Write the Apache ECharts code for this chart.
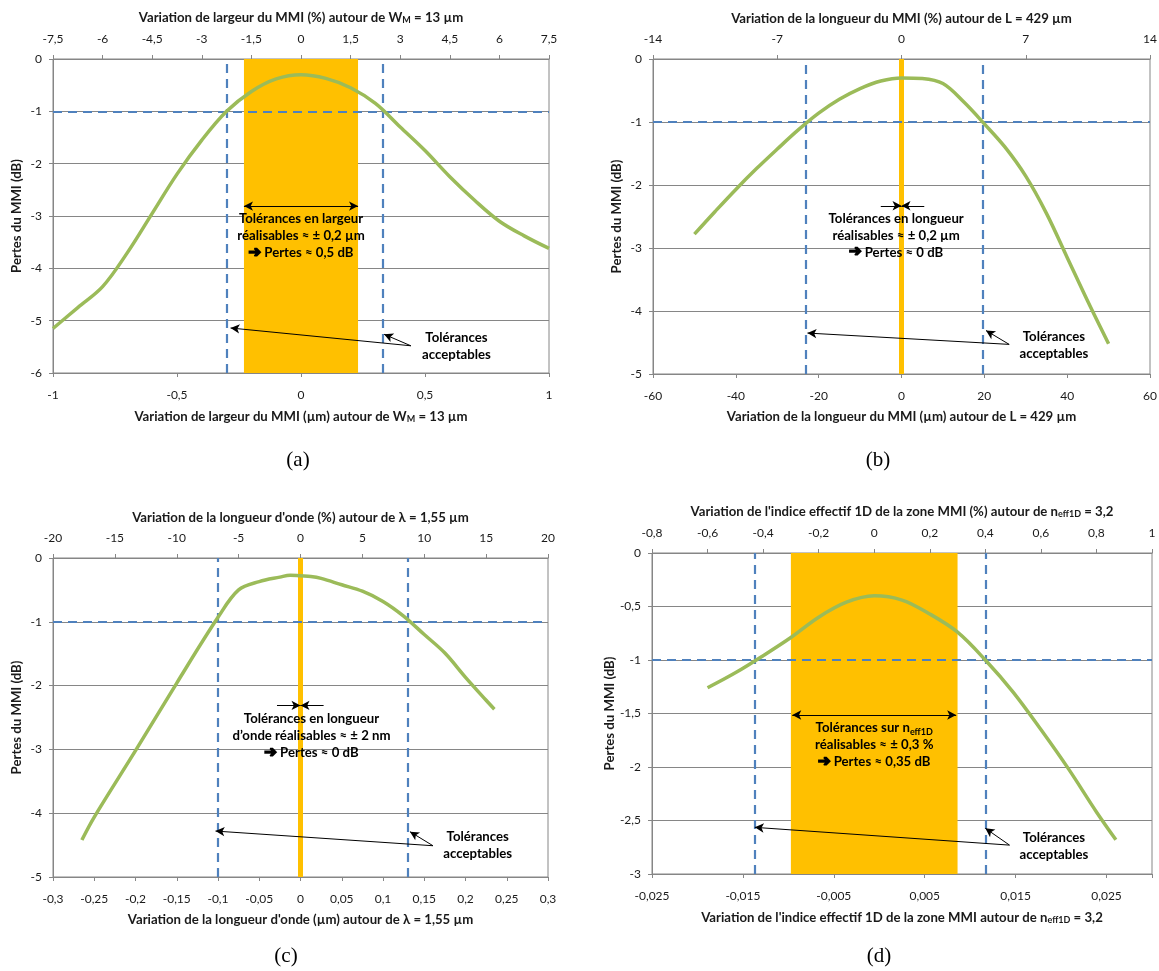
<!DOCTYPE html>
<html><head><meta charset="utf-8">
<script src="https://cdn.jsdelivr.net/npm/echarts@6/dist/echarts.min.js"></script>
<style>html,body{margin:0;padding:0;background:#fff}#c{width:1159px;height:971px}</style>
</head><body><div id="c"></div>
<script>
// ---------- DATA ----------
// (a) width variation (µm) vs MMI loss (dB)
const aX = [-1, -0.9, -0.8, -0.7, -0.6, -0.5, -0.4, -0.3, -0.2, -0.1, 0, 0.1, 0.2, 0.3, 0.4, 0.5, 0.6, 0.7, 0.8, 0.9, 1];
const aLoss = [-5.15, -4.75, -4.35, -3.7, -2.95, -2.2, -1.55, -1.0, -0.62, -0.38, -0.3, -0.37, -0.55, -0.85, -1.3, -1.75, -2.25, -2.7, -3.1, -3.38, -3.62];
const aAccept = [-0.3, 0.33];
const aReal = [-0.23, 0.23];
// (b) length variation (µm)
const bX = [-50, -45, -40, -35, -30, -25, -20, -15, -10, -5, 0, 5, 10, 15, 20, 25, 30, 35, 40, 45, 50];
const bLoss = [-2.78, -2.42, -2.07, -1.74, -1.43, -1.13, -0.86, -0.64, -0.47, -0.35, -0.3, -0.31, -0.39, -0.68, -1.03, -1.40, -1.86, -2.45, -3.15, -3.85, -4.52];
const bAccept = [-23, 19.5];
const bReal = [0];
// (c) wavelength variation (µm)
const cX = [-0.265, -0.25, -0.2, -0.15, -0.1, -0.075, -0.05, -0.025, -0.0125, 0, 0.0125, 0.025, 0.05, 0.075, 0.1, 0.125, 0.15, 0.175, 0.2, 0.225, 0.235];
const cLoss = [-4.42, -4.06, -3.02, -1.96, -0.93, -0.5, -0.37, -0.3, -0.27, -0.28, -0.29, -0.32, -0.42, -0.52, -0.68, -0.91, -1.2, -1.49, -1.87, -2.23, -2.37];
const cAccept = [-0.104, 0.132];
const cReal = [0];
// (d) effective index variation (%)
const dPct = [-0.6, -0.5, -0.4, -0.3, -0.2, -0.1, 0, 0.1, 0.2, 0.3, 0.4, 0.5, 0.6, 0.7, 0.8, 0.87];
const dLoss = [-1.26, -1.12, -0.96, -0.79, -0.6, -0.46, -0.4, -0.44, -0.57, -0.74, -1.0, -1.3, -1.65, -2.02, -2.42, -2.68];
const dAccept = [-0.43, 0.40];
const dReal = [-0.3, 0.3];
const lossLimit = -1;

// ---------- STYLE ----------
const FONT = 'Lato';
const GRAY = '#868686', TXT = '#1a1a1a', GREEN = '#9BBB59', BLUE = '#4F81BD', ORANGE = '#FFC000';
const fmt = v => String(Math.round(v * 1e6) / 1e6).replace('.', ',');
const nameStyle = {
  fontFamily: FONT, fontWeight: 'bold', fontSize: 13.2, color: TXT,
  rich: { s: { fontFamily: FONT, fontWeight: 'bold', fontSize: 9, color: TXT, verticalAlign: 'bottom', padding: [6, 0, 0, 0] } }
};
function xAx(gi, pos, min, max, interval, name, formatter) {
  return {
    type: 'value', gridIndex: gi, position: pos, min, max, interval, name,
    nameLocation: 'middle', nameGap: pos === 'top' ? 34 : 36, nameTextStyle: nameStyle,
    axisLine: { show: true, onZero: false, lineStyle: { color: GRAY } },
    axisTick: { show: true, length: 4, lineStyle: { color: GRAY } },
    axisLabel: { color: TXT, fontFamily: FONT, fontSize: 12, margin: pos === 'top' ? 14 : 16, formatter: formatter || fmt },
    splitLine: { show: false }
  };
}
function yAx(gi, min, max, interval) {
  return {
    type: 'value', gridIndex: gi, min, max, interval,
    name: 'Pertes du MMI (dB)', nameLocation: 'middle', nameRotate: 90, nameGap: 30, nameTextStyle: nameStyle,
    axisLine: { show: true, onZero: false, lineStyle: { color: GRAY } },
    axisTick: { show: true, length: 4, lineStyle: { color: GRAY } },
    axisLabel: { color: TXT, fontFamily: FONT, fontSize: 12, margin: 11, formatter: fmt },
    splitLine: { show: true, lineStyle: { color: GRAY, width: 1 } }
  };
}
const labelBase = { show: true, position: 'inside', color: '#000', fontFamily: FONT, fontWeight: 'bold', fontSize: 13.2, lineHeight: 17, align: 'center', verticalAlign: 'middle',
  rich: { ar: { fontFamily: 'DejaVu Sans', fontWeight: 'bold', fontSize: 15, color: '#000', lineHeight: 17, textBorderColor: '#000', textBorderWidth: 1.6 },
          s: { fontFamily: FONT, fontWeight: 'bold', fontSize: 9, color: '#000', verticalAlign: 'bottom', padding: [6, 0, 0, 0] } } };
const ARW = [7, 9];
function arrow(p, q, both) {
  return [{ coord: p, symbol: both ? 'arrow' : 'none', symbolSize: ARW }, { coord: q, symbol: 'arrow', symbolSize: ARW }];
}
function panel(gi, xi, X, Y, accept, real, ann) {
  const band = real.length === 2
    ? { type: 'line', xAxisIndex: xi, yAxisIndex: gi, data: [], z: 1, silent: true,
        markArea: { silent: true, emphasis: { disabled: true }, itemStyle: { color: ORANGE, opacity: 1 }, data: [[{ xAxis: real[0] }, { xAxis: real[1] }]] } }
    : { type: 'line', xAxisIndex: xi, yAxisIndex: gi, data: [], z: 1, silent: true,
        markLine: { silent: true, symbol: ['none', 'none'], label: { show: false }, emphasis: { disabled: true },
          lineStyle: { color: ORANGE, width: 5, type: 'solid' }, data: real.map(v => ({ xAxis: v })) } };
  const dashed = { type: 'line', xAxisIndex: xi, yAxisIndex: gi, data: [], z: 3, silent: true,
    markLine: { silent: true, symbol: ['none', 'none'], label: { show: false }, emphasis: { disabled: true },
      lineStyle: { color: BLUE, width: 2.2, type: [9, 6] },
      data: [{ yAxis: lossLimit }].concat(accept.map(v => ({ xAxis: v }))) } };
  const curve = { type: 'line', xAxisIndex: xi, yAxisIndex: gi, z: 5, smooth: 0.35, showSymbol: false, silent: true,
    data: X.map((x, i) => [x, Y[i]]), lineStyle: { color: GREEN, width: 3.5 } };
  const notes = { type: 'line', xAxisIndex: xi, yAxisIndex: gi, data: [], z: 6, silent: true,
    markLine: { silent: true, label: { show: false }, emphasis: { disabled: true }, lineStyle: { color: '#000', width: 1, type: 'solid' },
      data: ann.arrows },
    markPoint: { silent: true, symbol: 'circle', symbolSize: 0, itemStyle: { color: 'rgba(0,0,0,0)' }, label: labelBase,
      data: ann.texts.map(t => ({ coord: t.c, label: Object.assign({}, labelBase, { formatter: t.t }) })) } };
  return [band, dashed, curve, notes];
}
const fmtD = v => (v > 0.0255 ? '' : fmt(v));

const option = {
  animation: false,
  backgroundColor: '#fff',
  grid: [
    { left: 53, top: 59, width: 496, height: 314, show: true, borderColor: GRAY, borderWidth: 1, containLabel: false, outerBoundsMode: 'none' },
    { left: 653, top: 59, width: 497, height: 315, show: true, borderColor: GRAY, borderWidth: 1, containLabel: false, outerBoundsMode: 'none' },
    { left: 53, top: 558, width: 495, height: 319, show: true, borderColor: GRAY, borderWidth: 1, containLabel: false, outerBoundsMode: 'none' },
    { left: 652, top: 553, width: 500, height: 321, show: true, borderColor: GRAY, borderWidth: 1, containLabel: false, outerBoundsMode: 'none' }
  ],
  xAxis: [
    xAx(0, 'bottom', -1, 1, 0.5, 'Variation de largeur du MMI (µm) autour de W{s|M} = 13 µm'),
    xAx(0, 'top', -7.5, 7.5, 1.5, 'Variation de largeur du MMI (%) autour de W{s|M} = 13 µm'),
    xAx(1, 'bottom', -60, 60, 20, 'Variation de la longueur du MMI (µm) autour de L = 429 µm'),
    xAx(1, 'top', -14, 14, 7, 'Variation de la longueur du MMI (%) autour de L = 429 µm'),
    xAx(2, 'bottom', -0.3, 0.3, 0.05, "Variation de la longueur d'onde (µm) autour de λ = 1,55 µm"),
    xAx(2, 'top', -20, 20, 5, "Variation de la longueur d'onde (%) autour de λ = 1,55 µm"),
    xAx(3, 'bottom', -0.025, 0.03, 0.01, "Variation de l'indice effectif 1D de la zone MMI autour de n{s|eff1D} = 3,2", fmtD),
    xAx(3, 'top', -0.8, 1, 0.2, "Variation de l'indice effectif 1D de la zone MMI (%) autour de n{s|eff1D} = 3,2")
  ],
  yAxis: [yAx(0, -6, 0, 1), yAx(1, -5, 0, 1), yAx(2, -5, 0, 1), yAx(3, -3, 0, 0.5)],
  series: [].concat(
    panel(0, 0, aX, aLoss, aAccept, aReal, {
      arrows: [arrow([aReal[0], -2.81], [aReal[1], -2.81], true), arrow([0.443, -5.48], [-0.284, -5.14]), arrow([0.443, -5.48], [0.335, -5.26])],
      texts: [{ c: [0, -3.38], t: 'Tolérances en largeur\nréalisables ≈ ± 0,2 µm\n{ar|➔} Pertes ≈ 0,5 dB' },
              { c: [0.627, -5.48], t: 'Tolérances\nacceptables' }]
    }),
    panel(1, 2, bX, bLoss, bAccept, bReal, {
      arrows: [arrow([-5, -2.33], [0, -2.33]), arrow([5.5, -2.33], [0, -2.33]), arrow([26, -4.53], [-22.7, -4.35]), arrow([26, -4.53], [20.4, -4.31])],
      texts: [{ c: [-1.3, -2.8], t: 'Tolérances en longueur\nréalisables ≈ ± 0,2 µm\n{ar|➔} Pertes ≈ 0 dB' },
              { c: [36.8, -4.54], t: 'Tolérances\nacceptables' }]
    }),
    panel(2, 4, cX, cLoss, cAccept, cReal, {
      arrows: [arrow([-0.0285, -2.31], [0, -2.31]), arrow([0.028, -2.31], [0, -2.31]), arrow([0.1606, -4.51], [-0.103, -4.28]), arrow([0.1606, -4.51], [0.1327, -4.29])],
      texts: [{ c: [0.0133, -2.785], t: 'Tolérances en longueur\nd’onde réalisables ≈ ± 2 nm\n{ar|➔} Pertes ≈ 0 dB' },
              { c: [0.2148, -4.51], t: 'Tolérances\nacceptables' }]
    }),
    panel(3, 7, dPct, dLoss, dAccept, dReal, {
      arrows: [arrow([dReal[0] + 0.005, -1.514], [dReal[1] - 0.005, -1.514], true), arrow([0.487, -2.73], [-0.43, -2.564]), arrow([0.487, -2.73], [0.40, -2.573])],
      texts: [{ c: [0, -1.794], t: 'Tolérances sur n{s|eff1D}\nréalisables ≈ ± 0,3 %\n{ar|➔} Pertes ≈ 0,35 dB' },
              { c: [0.647, -2.738], t: 'Tolérances\nacceptables' }]
    })
  ),
  graphic: [
    { type: 'text', x: 298, y: 460, style: { text: '(a)', font: '21px "Liberation Serif"', fill: '#000', textAlign: 'center', textVerticalAlign: 'middle' } },
    { type: 'text', x: 878, y: 460, style: { text: '(b)', font: '21px "Liberation Serif"', fill: '#000', textAlign: 'center', textVerticalAlign: 'middle' } },
    { type: 'text', x: 286, y: 956, style: { text: '(c)', font: '21px "Liberation Serif"', fill: '#000', textAlign: 'center', textVerticalAlign: 'middle' } },
    { type: 'text', x: 879, y: 956, style: { text: '(d)', font: '21px "Liberation Serif"', fill: '#000', textAlign: 'center', textVerticalAlign: 'middle' } }
  ]
};
const chart = echarts.init(document.getElementById('c'), null, { renderer: 'canvas' });
chart.setOption(option);
</script>
</body></html>
